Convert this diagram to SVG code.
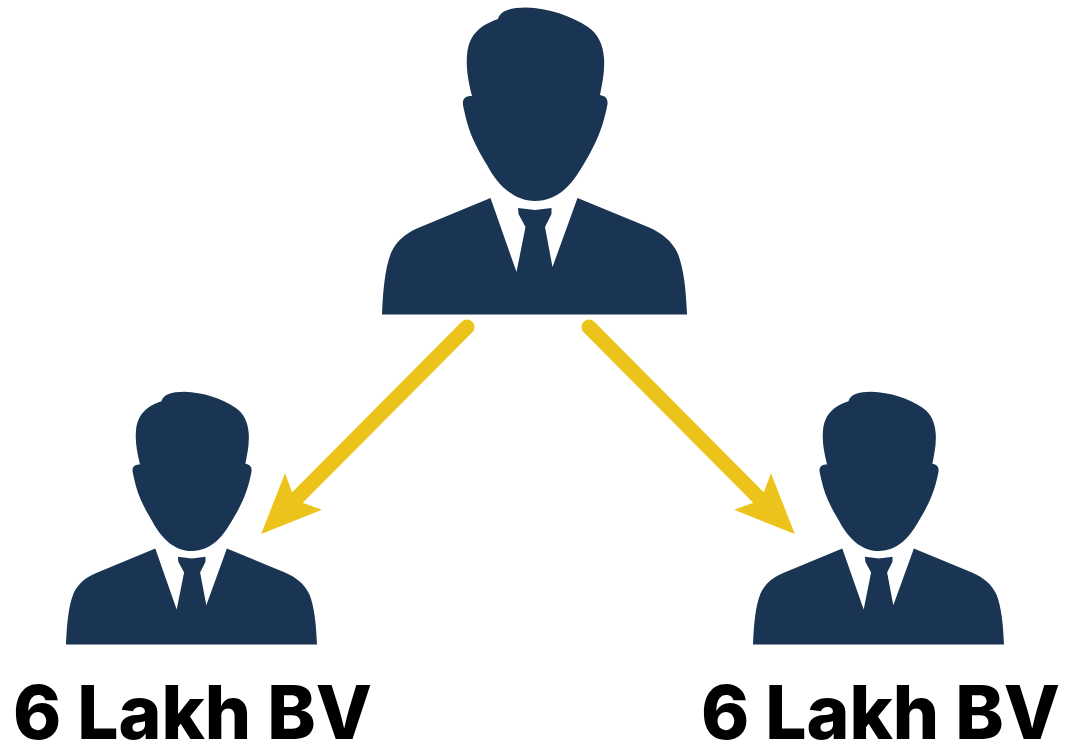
<svg xmlns="http://www.w3.org/2000/svg" width="1069" height="747" viewBox="0 0 1069 747">
<style>
.fig{fill:#1a3553}
.arrow{stroke:#ecc31a;stroke-width:15;stroke-linecap:round;fill:none;marker-end:url(#head)}
.lbl{font-family:Inter,"Liberation Sans",sans-serif;font-weight:800;font-size:74px;fill:#000}
</style>
<defs>
<marker id="head" markerUnits="userSpaceOnUse" markerWidth="66" markerHeight="56" refX="14" refY="28" orient="auto" overflow="visible"><path d="M62 28L2 54L14 28L2 2Z" fill="#ecc31a"/></marker>
<g id="person">
<path d="M498 19C500 11 510 7.500 526 7.500C548 8 572 16 588 27C598 34 603 44 604 58C605 72 602 84 600 95C605 96 608 98 607.500 104C605 118 601 130 597 139C592 150 588 157 582 167C572 184 558 201 535 201C513 201 497 184 487 165C481 155 477 148 473 139C468 128 465 115 463 105C462 98 466 96 472 96C468 80 466 68 467 55C468 42 473 33 483 26C488 23 492 21 498 19Z"/>
<path d="M490.500 198L418 228C404 234 396 242 391 253C385 268 383 290 382 314.500H687C686 290 684 270 678 254C672 241 662 233 648 227L577.500 198L552.500 267L545 227L551.500 214L551.500 208L535 210L518 208L518.500 214L525.500 227L516.500 272Z"/>
</g>
</defs>
<g id="connectors">
<path class="arrow" d="M467 327L295 500"/>
<path class="arrow" d="M589 327L761 500"/>
</g>
<use id="node-top" class="fig" href="#person"/>
<use id="node-left" class="fig" href="#person" transform="translate(-248.400 385.600) scale(.823)"/>
<use id="node-right" class="fig" href="#person" transform="translate(438.600 385.600) scale(.823)"/>
<g id="label-left"><text class="lbl" x="13" y="739" textLength="359" lengthAdjust="spacingAndGlyphs">6 Lakh BV</text></g>
<g id="label-right"><text class="lbl" x="701" y="739" textLength="359" lengthAdjust="spacingAndGlyphs">6 Lakh BV</text></g>
</svg>
